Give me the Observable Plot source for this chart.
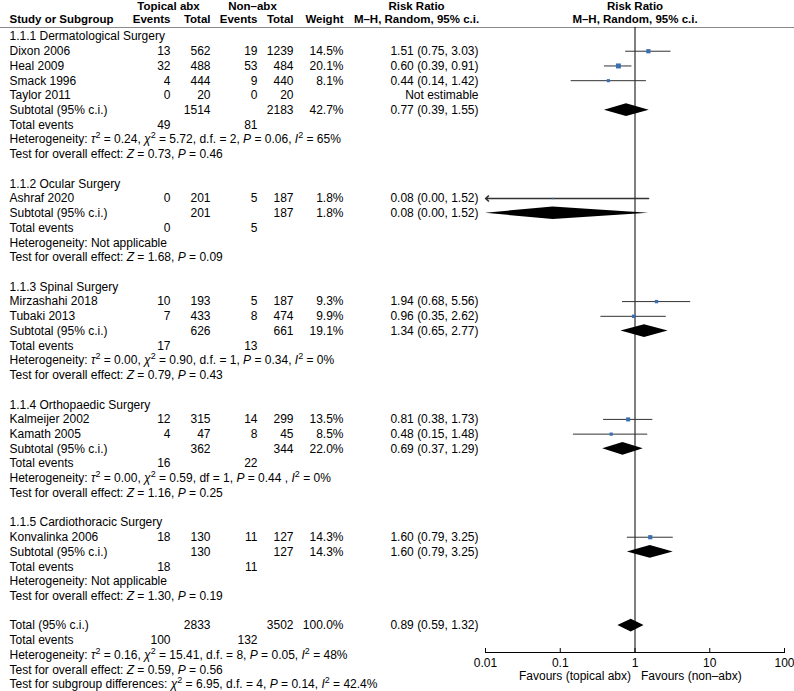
<!DOCTYPE html>
<html><head><meta charset="utf-8">
<script src="https://cdn.jsdelivr.net/npm/d3@7"></script>
<script src="https://cdn.jsdelivr.net/npm/@observablehq/plot@0.6"></script>
<style>body{margin:0;background:#fff;} #chart svg{display:block;}</style>
</head><body><div id="chart"></div>
<script>
// ---------- DATA (one entry per table row) ----------
const rowLabel = [
  "1.1.1 Dermatological Surgery", "Dixon 2006", "Heal 2009", "Smack 1996", "Taylor 2011",
  "Subtotal (95% c.i.)", "Total events",
  "Heterogeneity: *τ*^2^ = 0.24, *χ*^2^ = 5.72, d.f. = 2, *P* = 0.06, *I*^2^ = 65%",
  "Test for overall effect: *Z* = 0.73, *P* = 0.46", "",
  "1.1.2 Ocular Surgery", "Ashraf 2020", "Subtotal (95% c.i.)", "Total events",
  "Heterogeneity: Not applicable", "Test for overall effect: *Z* = 1.68, *P* = 0.09", "",
  "1.1.3 Spinal Surgery", "Mirzashahi 2018", "Tubaki 2013", "Subtotal (95% c.i.)", "Total events",
  "Heterogeneity: *τ*^2^ = 0.00, *χ*^2^ = 0.90, d.f. = 1, *P* = 0.34, *I*^2^ = 0%",
  "Test for overall effect: *Z* = 0.79, *P* = 0.43", "",
  "1.1.4 Orthopaedic Surgery", "Kalmeijer 2002", "Kamath 2005", "Subtotal (95% c.i.)", "Total events",
  "Heterogeneity: *τ*^2^ = 0.00, *χ*^2^ = 0.59, df = 1, *P* = 0.44 , *I*^2^ = 0%",
  "Test for overall effect: *Z* = 1.16, *P* = 0.25", "",
  "1.1.5 Cardiothoracic Surgery", "Konvalinka 2006", "Subtotal (95% c.i.)", "Total events",
  "Heterogeneity: Not applicable", "Test for overall effect: *Z* = 1.30, *P* = 0.19", "",
  "Total (95% c.i.)", "Total events",
  "Heterogeneity: *τ*^2^ = 0.16, *χ*^2^ = 15.41, d.f. = 8, *P* = 0.05, *I*^2^ = 48%",
  "Test for overall effect: *Z* = 0.59, *P* = 0.56",
  "Test for subgroup differences: *χ*^2^ = 6.95, d.f. = 4, *P* = 0.14, *I*^2^ = 42.4%"
];
// s = study, p = pooled (diamond)
const rowKind = [
  "", "s", "s", "s", "s", "p", "", "", "", "",
  "", "s", "p", "", "", "", "",
  "", "s", "s", "p", "", "", "", "",
  "", "s", "s", "p", "", "", "", "",
  "", "s", "p", "", "", "", "",
  "p", "", "", "", ""
];
const topicalEvents = [
  null, 13, 32, 4, 0, null, 49, null, null, null,
  null, 0, null, 0, null, null, null,
  null, 10, 7, null, 17, null, null, null,
  null, 12, 4, null, 16, null, null, null,
  null, 18, null, 18, null, null, null,
  null, 100, null, null, null
];
const topicalTotal = [
  null, 562, 488, 444, 20, 1514, null, null, null, null,
  null, 201, 201, null, null, null, null,
  null, 193, 433, 626, null, null, null, null,
  null, 315, 47, 362, null, null, null, null,
  null, 130, 130, null, null, null, null,
  2833, null, null, null, null
];
const nonEvents = [
  null, 19, 53, 9, 0, null, 81, null, null, null,
  null, 5, null, 5, null, null, null,
  null, 5, 8, null, 13, null, null, null,
  null, 14, 8, null, 22, null, null, null,
  null, 11, null, 11, null, null, null,
  null, 132, null, null, null
];
const nonTotal = [
  null, 1239, 484, 440, 20, 2183, null, null, null, null,
  null, 187, 187, null, null, null, null,
  null, 187, 474, 661, null, null, null, null,
  null, 299, 45, 344, null, null, null, null,
  null, 127, 127, null, null, null, null,
  3502, null, null, null, null
];
const weight = [
  null, 14.5, 20.1, 8.1, null, 42.7, null, null, null, null,
  null, 1.8, 1.8, null, null, null, null,
  null, 9.3, 9.9, 19.1, null, null, null, null,
  null, 13.5, 8.5, 22.0, null, null, null, null,
  null, 14.3, 14.3, null, null, null, null,
  100.0, null, null, null, null
];
const rrEst = [
  null, 1.51, 0.60, 0.44, null, 0.77, null, null, null, null,
  null, 0.08, 0.08, null, null, null, null,
  null, 1.94, 0.96, 1.34, null, null, null, null,
  null, 0.81, 0.48, 0.69, null, null, null, null,
  null, 1.60, 1.60, null, null, null, null,
  0.89, null, null, null, null
];
const rrLo = [
  null, 0.75, 0.39, 0.14, null, 0.39, null, null, null, null,
  null, 0.004, 0.004, null, null, null, null,
  null, 0.68, 0.35, 0.65, null, null, null, null,
  null, 0.38, 0.15, 0.37, null, null, null, null,
  null, 0.79, 0.79, null, null, null, null,
  0.59, null, null, null, null
];
const rrHi = [
  null, 3.03, 0.91, 1.42, null, 1.55, null, null, null, null,
  null, 1.52, 1.52, null, null, null, null,
  null, 5.56, 2.62, 2.77, null, null, null, null,
  null, 1.73, 1.48, 1.29, null, null, null, null,
  null, 3.25, 3.25, null, null, null, null,
  1.32, null, null, null, null
];
const axisTicks = [0.01, 0.1, 1, 10, 100];
const axisTickLabels = ["0.01", "0.1", "1", "10", "100"];
const favourLabels = ["Favours (topical abx)", "Favours (non–abx)"];

// ---------- LAYOUT ----------
const W = 794, H = 691;
const LEFT = 485, RIGHT = 10, TOP = 27, BOTTOM = 39;
const FONT = "'Liberation Sans', Arial, Helvetica, sans-serif";
const FS = 12, HFS = 11.5;
const xDomain = [0.01, 100];
const rows = d3.range(rowLabel.length);
const f2 = d3.format(".2f");
const nf = v => v == null ? "" : String(v);
const rrText = rows.map(i => rowKind[i] === "s" && rrEst[i] == null ? "Not estimable"
  : rrEst[i] == null ? "" : `${f2(rrEst[i])} (${f2(rrLo[i])}, ${f2(rrHi[i])})`);
const wText = rows.map(i => weight[i] == null ? "" : d3.format(".1f")(weight[i]) + "%");

const txt = {fontFamily: FONT, fontSize: FS, fill: "black"};
const htxt = {fontFamily: FONT, fontSize: HFS, fill: "black", fontWeight: "bold"};
const columns = [
  {text: i => rowLabel[i], pos: 9, anchor: "start"},
  {text: i => nf(topicalEvents[i]), pos: 170, anchor: "end"},
  {text: i => nf(topicalTotal[i]), pos: 210, anchor: "end"},
  {text: i => nf(nonEvents[i]), pos: 257, anchor: "end"},
  {text: i => nf(nonTotal[i]), pos: 293, anchor: "end"},
  {text: i => wText[i], pos: 343, anchor: "end"},
  {text: i => rrText[i], pos: 478, anchor: "end"}
];
const hTop = -2.07, hBot = -1.14;
const headers = [
  {t: "Topical abx", pos: 168, anchor: "middle", row: hTop},
  {t: "Non–abx", pos: 252, anchor: "middle", row: hTop},
  {t: "Risk Ratio", pos: 416, anchor: "middle", row: hTop},
  {t: "Study or Subgroup", pos: 9, anchor: "start", row: hBot},
  {t: "Events", pos: 170, anchor: "end", row: hBot},
  {t: "Total", pos: 210, anchor: "end", row: hBot},
  {t: "Events", pos: 257, anchor: "end", row: hBot},
  {t: "Total", pos: 293, anchor: "end", row: hBot},
  {t: "Weight", pos: 343, anchor: "end", row: hBot},
  {t: "M–H, Random, 95% c.i.", pos: 416, anchor: "middle", row: hBot}
];

const studyRows = rows.filter(i => rowKind[i] === "s" && rrEst[i] != null);
const pooledRows = rows.filter(i => rowKind[i] === "p");
const HALF = 0.43;
const diamondPts = pooledRows.flatMap(i => {
  const lo = Math.max(rrLo[i], xDomain[0]);
  return [
    {id: i, y: i - HALF, x1: rrEst[i], x2: rrEst[i]},
    {id: i, y: i, x1: lo, x2: rrHi[i]},
    {id: i, y: i + HALF, x1: rrEst[i], x2: rrEst[i]}
  ];
});

const marks = [
  Plot.frame({anchor: "top", stroke: "#8a8a8a", insetLeft: -LEFT, insetRight: -RIGHT}),
  Plot.ruleX([1], {stroke: "black"}),
  Plot.frame({anchor: "bottom", stroke: "black"}),
  Plot.tickX(axisTicks, {x: d => d, insetTop: H - TOP - BOTTOM - 4, stroke: "black"}),
  Plot.text(axisTicks, {x: d => d, text: (d, i) => axisTickLabels[i], frameAnchor: "bottom", dy: 14, ...txt}),
  Plot.text([favourLabels[0]], {x: () => 1, text: d => d, frameAnchor: "bottom", dy: 27, dx: -4, textAnchor: "end", ...txt}),
  Plot.text([favourLabels[1]], {x: () => 1, text: d => d, frameAnchor: "bottom", dy: 27, dx: 6, textAnchor: "start", ...txt}),
  Plot.ruleY(studyRows.filter(i => rrLo[i] >= xDomain[0]), {y: i => i, x1: i => rrLo[i], x2: i => rrHi[i], stroke: "#333"}),
  Plot.arrow(studyRows.filter(i => rrLo[i] < xDomain[0]), {x1: i => rrHi[i], x2: () => xDomain[0], y1: i => i, y2: i => i, stroke: "#333", headLength: 4, headAngle: 80}),
  Plot.areaX(diamondPts, {y: "y", x1: "x1", x2: "x2", z: "id", fill: "black", curve: "linear"}),
  Plot.dot(studyRows, {x: i => rrEst[i], y: i => i, r: i => weight[i], symbol: "square", fill: "#3a6fb2", stroke: null}),
  ...columns.map(c => Plot.text(rows, {y: i => i, text: c.text, frameAnchor: "left", dx: c.pos - LEFT, textAnchor: c.anchor, ...txt})),
  ...headers.map(h => Plot.text([h.t], {y: () => h.row, text: d => d, frameAnchor: "left", dx: h.pos - LEFT, textAnchor: h.anchor, ...htxt})),
  Plot.text(["Risk Ratio"], {x: () => 1, y: () => hTop, text: d => d, ...htxt}),
  Plot.text(["M–H, Random, 95% c.i."], {x: () => 1, y: () => hBot, text: d => d, ...htxt})
];

const chart = Plot.plot({
  width: W, height: H,
  marginLeft: LEFT, marginRight: RIGHT, marginTop: TOP, marginBottom: BOTTOM,
  x: {type: "log", domain: xDomain, axis: null},
  y: {domain: [0, rowLabel.length - 1], range: [36, 684], axis: null},
  r: {range: [0, 2.8]},
  style: {fontFamily: FONT, fontSize: "12px", background: "white", color: "black"},
  marks
});

// rich text: *italic* and ^superscript^
const NS = "http://www.w3.org/2000/svg";
chart.querySelectorAll("text").forEach(el => {
  const s = el.textContent;
  if (!/[*^]/.test(s)) return;
  el.textContent = "";
  let shifted = false;
  for (const p of s.split(/(\*[^*]+\*|\^[^^]+\^)/g)) {
    if (!p) continue;
    const t = document.createElementNS(NS, "tspan");
    if (p[0] === "*") { t.textContent = p.slice(1, -1); t.setAttribute("font-style", "italic"); }
    else if (p[0] === "^") { t.textContent = p.slice(1, -1); t.setAttribute("font-size", "9"); t.setAttribute("dy", "-5"); }
    else t.textContent = p;
    if (shifted && p[0] !== "^") { t.setAttribute("dy", "5"); shifted = false; }
    if (p[0] === "^") shifted = true;
    el.appendChild(t);
  }
});
document.getElementById("chart").appendChild(chart);
</script></body></html>
